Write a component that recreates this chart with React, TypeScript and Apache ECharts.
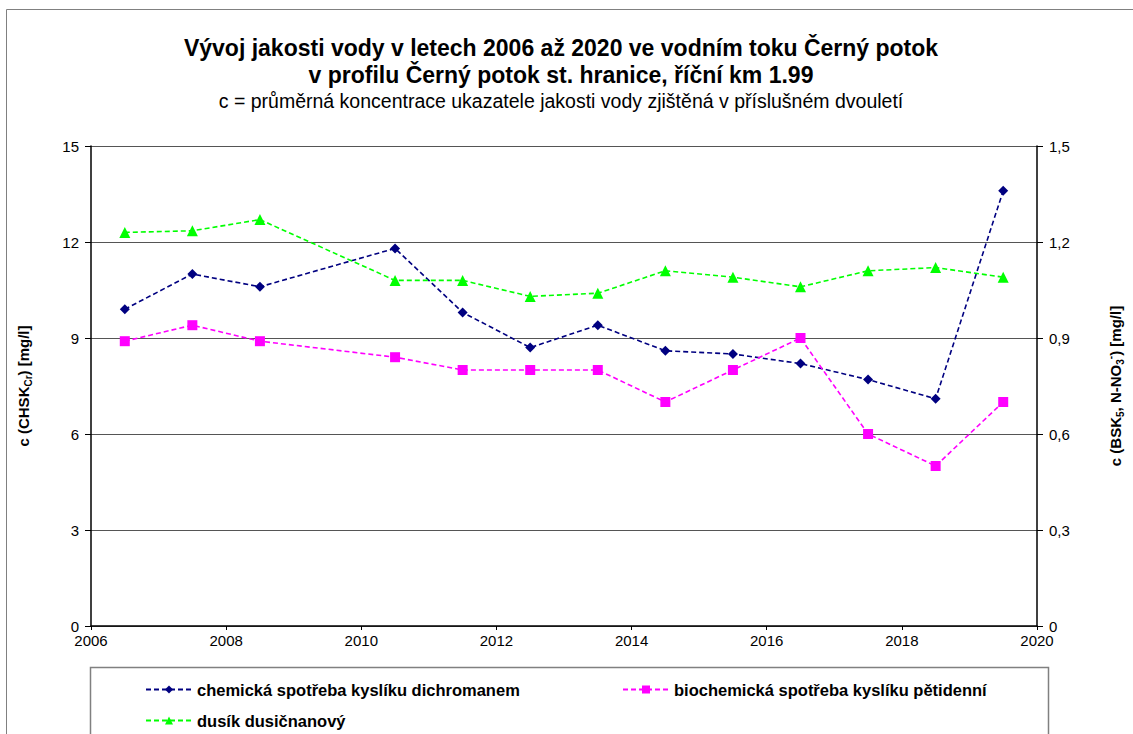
import React, { useEffect, useRef } from "react";
import * as echarts from "echarts";

const years = [2006.5, 2007.5, 2008.5, 2010.5, 2011.5, 2012.5, 2013.5, 2014.5, 2015.5, 2016.5, 2017.5, 2018.5, 2019.5];
const chsk = [9.9, 11.0, 10.6, 11.8, 9.8, 8.7, 9.4, 8.6, 8.5, 8.2, 7.7, 7.1, 13.6];
const bsk = [0.89, 0.94, 0.89, 0.84, 0.8, 0.8, 0.8, 0.7, 0.8, 0.9, 0.6, 0.5, 0.7];
const nitrate = [1.23, 1.235, 1.27, 1.08, 1.08, 1.03, 1.04, 1.11, 1.09, 1.06, 1.11, 1.12, 1.09];

const seriesNames = [
  "chemická spotřeba kyslíku dichromanem",
  "biochemická spotřeba kyslíku pětidenní",
  "dusík dusičnanový",
];
const titleLine1 = "Vývoj jakosti vody v letech 2006 až 2020 ve vodním toku Černý potok";
const titleLine2 = "v profilu Černý potok st. hranice, říční km 1.99";
const subtitle = "c = průměrná koncentrace ukazatele jakosti vody zjištěná v příslušném dvouletí";

const FONT = "'Liberation Sans', Arial, sans-serif";

export default function App() {
  const ref = useRef<HTMLDivElement>(null);
  useEffect(() => {
    if (!ref.current) return;
    const chart = echarts.init(ref.current, undefined, { renderer: "svg" });
    const pair = (xs: number[], ys: number[]) => xs.map((x, i) => [x, ys[i]]);
    const nameRich = {
      b: { fontFamily: FONT, fontSize: 15, fontWeight: "bold", color: "#000", lineHeight: 20, verticalAlign: "middle" },
      s: { fontFamily: FONT, fontSize: 10, fontWeight: "bold", color: "#000", lineHeight: 20, verticalAlign: "bottom" },
      p: { fontFamily: FONT, fontSize: 10, fontWeight: "bold", color: "#000", lineHeight: 20, verticalAlign: "top" },
    };
    const legendBase = {
      orient: "horizontal",
      itemWidth: 46,
      itemHeight: 10,
      textStyle: { fontFamily: FONT, fontSize: 16.5, fontWeight: "bold", color: "#000" },
      selectedMode: false,
    };
    chart.setOption({
      animation: false,
      backgroundColor: "#fff",
      textStyle: { fontFamily: FONT },
      title: [
        {
          text: titleLine1,
          left: 556,
          top: 31,
          textAlign: "center",
          textStyle: { fontFamily: FONT, fontSize: 23, fontWeight: "bold", color: "#000" },
        },
        {
          text: titleLine2,
          left: 556,
          top: 58,
          textAlign: "center",
          textStyle: { fontFamily: FONT, fontSize: 23, fontWeight: "bold", color: "#000" },
        },
        {
          text: subtitle,
          left: 556,
          top: 86,
          textAlign: "center",
          textStyle: { fontFamily: FONT, fontSize: 19.5, fontWeight: "normal", color: "#000" },
        },
      ],
      grid: { left: 91, right: 88, top: 146, bottom: 108, containLabel: false },
      legend: [
        { ...legendBase, data: [seriesNames[0]], left: 140, top: 676 },
        { ...legendBase, data: [seriesNames[1]], left: 617, top: 676 },
        { ...legendBase, data: [seriesNames[2]], left: 140, top: 707 },
      ],
      graphic: [
        {
          type: "rect",
          shape: { x: 6.5, y: 9.5, width: 1200, height: 800 },
          style: { fill: "none", stroke: "#808080", lineWidth: 1 },
          silent: true,
        },
        {
          type: "rect",
          shape: { x: 90.5, y: 667.5, width: 958, height: 90 },
          style: { fill: "none", stroke: "#808080", lineWidth: 1.5 },
          silent: true,
        },
      ],
      xAxis: {
        type: "value",
        min: 2006,
        max: 2020,
        interval: 2,
        axisLine: { show: true, lineStyle: { color: "#000", width: 1.5 } },
        axisTick: { show: true, length: 4, lineStyle: { color: "#000" } },
        axisLabel: { fontFamily: FONT, fontSize: 15, color: "#000", margin: 7, formatter: (v: number) => String(v) },
        splitLine: { show: false },
      },
      yAxis: [
        {
          type: "value",
          min: 0,
          max: 15,
          interval: 3,
          position: "left",
          name: "{b|c (CHSK}{s|Cr}{b|) [mg/l]}",
          nameLocation: "middle",
          nameRotate: 90,
          nameGap: 58,
          nameTextStyle: { rich: nameRich },
          axisLine: { show: true, lineStyle: { color: "#000", width: 1.5 } },
          axisTick: { show: true, length: 6, lineStyle: { color: "#000" } },
          axisLabel: { fontFamily: FONT, fontSize: 15, color: "#000", margin: 12 },
          splitLine: { show: true, lineStyle: { color: "#555", width: 1.2 } },
        },
        {
          type: "value",
          min: 0,
          max: 1.5,
          interval: 0.3,
          position: "right",
          name: "{b|c (BSK}{s|5}{b|, N-NO}{s|3}{p|-}{b|) [mg/l]}",
          nameLocation: "middle",
          nameRotate: 90,
          nameGap: 68,
          nameTextStyle: { rich: nameRich },
          axisLine: { show: true, lineStyle: { color: "#000", width: 1.5 } },
          axisTick: { show: true, length: 6, lineStyle: { color: "#000" } },
          axisLabel: {
            fontFamily: FONT,
            fontSize: 15,
            color: "#000",
            margin: 12,
            formatter: (v: number) => (v === 0 ? "0" : v.toFixed(1).replace(".", ",")),
          },
          splitLine: { show: false },
        },
      ],
      series: [
        {
          name: seriesNames[0],
          type: "line",
          yAxisIndex: 0,
          data: pair(years, chsk),
          symbol: "diamond",
          symbolSize: 10,
          lineStyle: { color: "#000080", width: 1.6, type: [5, 3] },
          itemStyle: { color: "#000080" },
        },
        {
          name: seriesNames[1],
          type: "line",
          yAxisIndex: 1,
          data: pair(years, bsk),
          symbol: "rect",
          symbolSize: 10,
          lineStyle: { color: "#FF00FF", width: 1.6, type: [5, 3] },
          itemStyle: { color: "#FF00FF" },
        },
        {
          name: seriesNames[2],
          type: "line",
          yAxisIndex: 1,
          data: pair(years, nitrate),
          symbol: "triangle",
          symbolSize: 11,
          lineStyle: { color: "#00FF00", width: 1.6, type: [5, 3] },
          itemStyle: { color: "#00FF00" },
        },
      ],
    });
    return () => chart.dispose();
  }, []);
  return (
    <div
      ref={ref}
      style={{ position: "fixed", left: 0, top: 0, width: 1133, height: 734 }}
    />
  );
}
